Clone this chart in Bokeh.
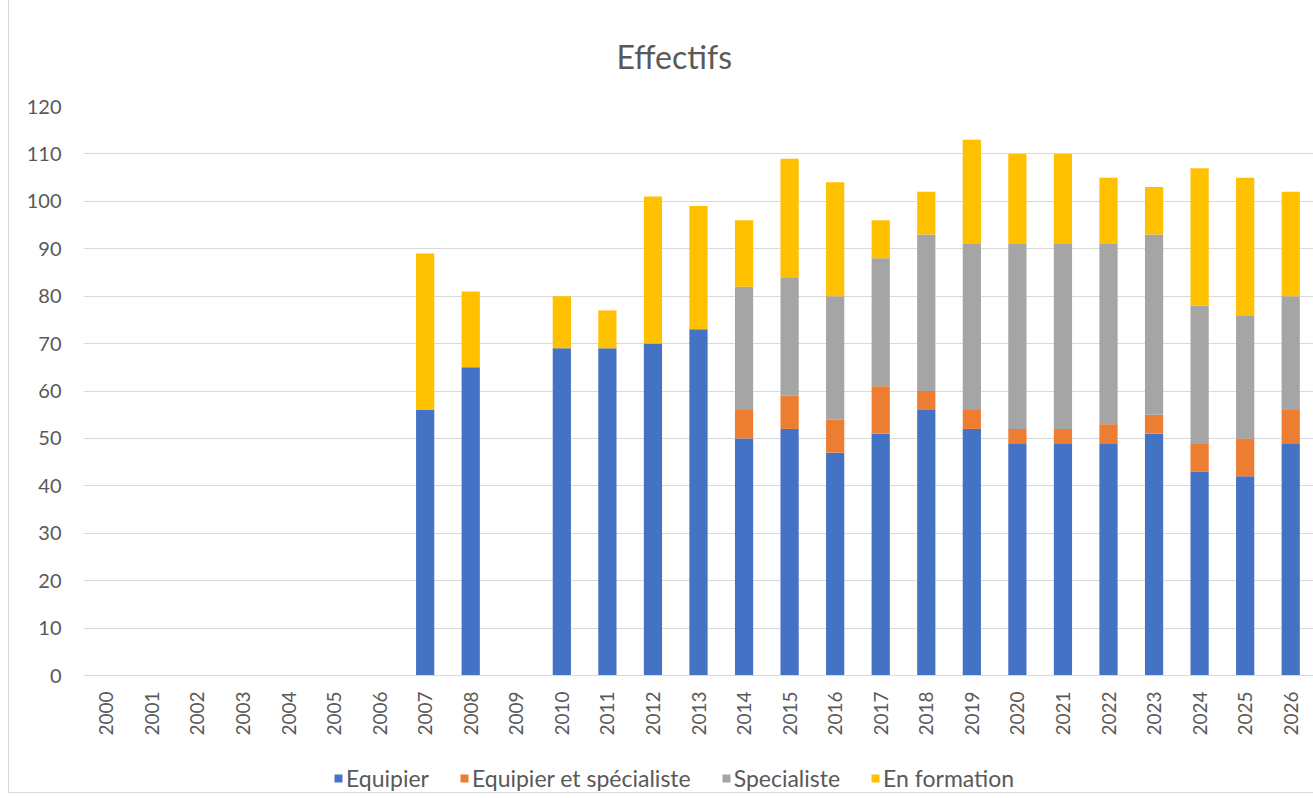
from bokeh.plotting import figure
from bokeh.layouts import column
from bokeh.models import FactorRange, Range1d, Legend, LegendItem, SingleIntervalTicker
from bokeh.embed import file_html
from bokeh.resources import INLINE

years = [str(y) for y in range(2000, 2027)]
equipier = [0, 0, 0, 0, 0, 0, 0, 56, 65, 0, 69, 69, 70, 73, 50, 52, 47, 51, 56, 52, 49, 49, 49, 51, 43, 42, 49]
equip_spec = [0, 0, 0, 0, 0, 0, 0, 0, 0, 0, 0, 0, 0, 0, 6, 7, 7, 10, 4, 4, 3, 3, 4, 4, 6, 8, 7]
specialiste = [0, 0, 0, 0, 0, 0, 0, 0, 0, 0, 0, 0, 0, 0, 26, 25, 26, 27, 33, 35, 39, 39, 38, 38, 29, 26, 24]
formation = [0, 0, 0, 0, 0, 0, 0, 33, 16, 0, 11, 8, 31, 26, 14, 25, 24, 8, 9, 22, 19, 19, 14, 10, 29, 29, 22]

series = ["Equipier", "Equipier et spécialiste", "Specialiste", "En formation"]
colors = ["#4472C4", "#ED7D31", "#A5A5A5", "#FFC000"]

data = {"year": years, series[0]: equipier, series[1]: equip_spec,
        series[2]: specialiste, series[3]: formation}

FONT = "Lato"
GREY = "#595959"

p = figure(x_range=FactorRange(*years, range_padding=0), y_range=Range1d(0, 120),
           width=1305, height=758, output_backend="svg", toolbar_location=None,
           min_border_left=74, min_border_right=1, min_border_top=106, min_border_bottom=83)

r = p.vbar_stack(series, x="year", width=0.4, color=colors, source=data, line_color=None)

p.title.text = "Effectifs"
p.title.align = "left"
p.title.vertical_align = "top"
p.title.text_font = FONT
p.title.text_font_size = "32px"
p.title.text_font_style = "normal"
p.title.text_color = GREY
p.title.offset = 533
p.title.standoff = 58

p.outline_line_color = None
p.xgrid.grid_line_color = None
p.ygrid.grid_line_color = "#d9d9d9"
p.ygrid.grid_line_width = 1

p.yaxis.ticker = SingleIntervalTicker(interval=10)
p.yaxis.axis_line_color = None
p.yaxis.major_tick_line_color = None
p.yaxis.minor_tick_line_color = None
p.yaxis.major_label_text_font = FONT
p.yaxis.major_label_text_font_size = "20px"
p.yaxis.major_label_text_color = GREY
p.yaxis.major_label_standoff = 16

p.xaxis.axis_line_color = "#d9d9d9"
p.xaxis.major_tick_line_color = None
p.xaxis.minor_tick_line_color = None
p.xaxis.major_label_orientation = 1.5708
p.xaxis.major_label_text_font = FONT
p.xaxis.major_label_text_font_size = "19px"
p.xaxis.major_label_text_color = GREY
p.xaxis.major_label_standoff = 10

# legend strip below the chart (its frame is aligned with the chart frame)
lf = figure(width=1305, height=34, x_range=Range1d(0, 1), y_range=Range1d(0, 1),
            output_backend="svg", toolbar_location=None, x_axis_type=None, y_axis_type=None,
            min_border=0)
lf.outline_line_color = None
lf.xgrid.grid_line_color = None
lf.ygrid.grid_line_color = None
items = []
for s, c in zip(series, colors):
    g = lf.vbar(x=[-5], top=[-5], bottom=[-6], width=0.1, color=c, line_color=None)
    items.append(LegendItem(label=s, renderers=[g]))
legend = Legend(items=items, orientation="horizontal", location=(250, 0),
                label_text_font=FONT, label_text_font_size="23px", label_text_color=GREY,
                glyph_width=10, glyph_height=10, spacing=30, label_standoff=3,
                border_line_color=None, background_fill_alpha=0, margin=0, padding=4)
lf.add_layout(legend, "center")

layout = column(p, lf, spacing=0,
                styles={"margin-left": "8px", "border-left": "1px solid #d9d9d9",
                        "border-bottom": "1px solid #d9d9d9"})
open("out.html", "w").write(file_html(layout, INLINE))
